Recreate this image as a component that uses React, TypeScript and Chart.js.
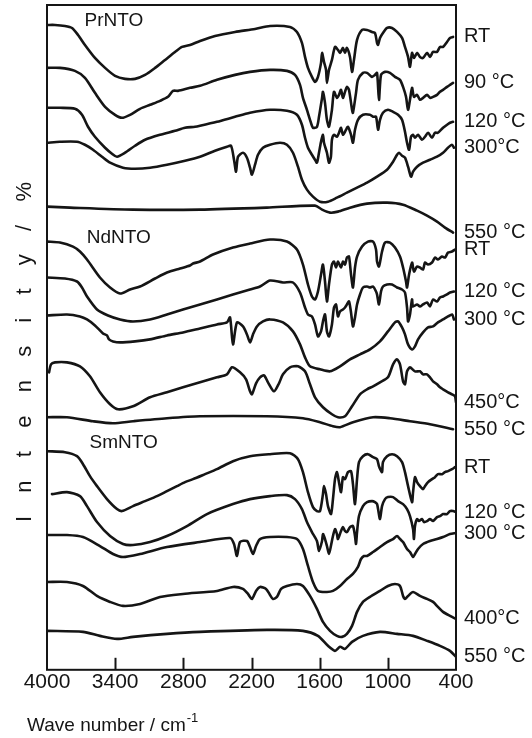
import React, { useEffect, useRef } from 'react';
import { Chart, registerables } from 'chart.js';

Chart.register(...registerables);

type Pt = [number, number];

// Wavenumber ticks (cm^-1)
const X_TICKS = [4000, 3400, 2800, 2200, 1600, 1000, 400];

// ---- PrNTO (wavenumber, intensity a.u. with vertical offset) ----
const PR_RT: Pt[] = [[4000,646],[3930,646],[3842,645],[3780,643],[3727,636],[3666,626],[3578,613],[3489,603],[3401,595],[3313,592],[3225,592],[3137,596],[3049,603],[2961,611],[2873,619],[2812,624],[2741,626],[2653,630],[2521,635],[2345,639],[2169,642],[2037,645],[1861,644],[1800,639],[1756,628],[1729,614],[1703,603],[1668,594],[1641,589],[1615,594],[1588,608],[1579,618],[1562,609],[1544,601],[1536,588],[1518,601],[1492,611],[1465,624],[1439,621],[1421,618],[1395,623],[1377,618],[1360,623],[1333,614],[1315,599],[1298,611],[1271,631],[1227,641],[1183,641],[1139,639],[1113,638],[1095,628],[1086,626],[1069,633],[1043,638],[1007,643],[963,643],[919,639],[875,633],[849,624],[822,614],[805,604],[787,618],[770,613],[743,618],[717,614],[690,613],[655,618],[629,614],[602,619],[567,619],[541,624],[514,624],[479,629],[453,633],[426,634]];
const PR_90: Pt[] = [[4000,603],[3886,603],[3754,600],[3666,593],[3578,578],[3489,564],[3401,556],[3340,553],[3269,556],[3181,562],[3093,566],[3005,570],[2935,574],[2891,580],[2847,580],[2741,583],[2653,585],[2504,591],[2345,596],[2213,599],[2037,601],[1888,600],[1817,596],[1773,586],[1747,573],[1712,561],[1685,551],[1659,543],[1624,544],[1606,554],[1579,573],[1571,579],[1553,568],[1536,551],[1518,544],[1492,561],[1474,579],[1448,573],[1430,576],[1412,581],[1395,573],[1377,579],[1360,584],[1342,581],[1315,561],[1307,558],[1280,578],[1263,591],[1219,598],[1183,598],[1139,594],[1113,596],[1095,598],[1078,571],[1060,596],[1025,599],[981,598],[937,594],[893,591],[866,584],[840,574],[822,561],[805,571],[787,583],[770,574],[743,576],[717,571],[690,573],[655,576],[629,573],[602,574],[567,576],[541,579],[514,581],[479,584],[453,586],[426,588]];
const PR_120: Pt[] = [[4000,563],[3886,563],[3754,562],[3692,556],[3639,544],[3578,534],[3489,523],[3428,517],[3384,514],[3313,518],[3225,525],[3137,531],[3005,536],[2873,540],[2785,543],[2697,544],[2653,545],[2504,549],[2345,554],[2213,558],[2037,561],[1888,560],[1800,556],[1756,546],[1729,533],[1703,523],[1668,516],[1641,511],[1624,508],[1606,518],[1588,529],[1571,536],[1562,528],[1536,518],[1518,508],[1501,514],[1492,531],[1474,536],[1448,534],[1430,538],[1412,543],[1395,536],[1368,541],[1351,544],[1324,536],[1307,528],[1289,541],[1263,551],[1219,556],[1157,556],[1130,554],[1104,554],[1086,541],[1069,551],[1043,558],[999,561],[954,559],[910,556],[875,551],[849,539],[831,528],[813,521],[796,534],[778,536],[761,533],[734,536],[699,531],[673,534],[646,538],[611,533],[585,538],[559,538],[514,543],[479,546],[453,548],[426,549]];
const PR_300: Pt[] = [[4000,528],[3886,529],[3736,529],[3666,526],[3595,521],[3516,514],[3445,508],[3331,503],[3225,502],[3093,503],[2944,506],[2785,510],[2653,514],[2521,520],[2416,524],[2380,525],[2354,511],[2336,499],[2319,514],[2275,518],[2240,513],[2213,503],[2196,496],[2169,506],[2143,516],[2099,523],[2037,526],[1949,528],[1888,526],[1835,518],[1791,504],[1756,491],[1712,481],[1659,474],[1597,469],[1527,469],[1448,473],[1360,478],[1271,483],[1183,488],[1095,494],[1007,501],[954,509],[919,516],[902,518],[875,515],[849,513],[822,504],[796,494],[778,499],[743,504],[690,508],[629,511],[567,514],[514,518],[471,523],[435,526],[418,523]];
const PR_550: Pt[] = [[4000,464],[3798,463],[3243,461],[2653,461],[2064,463],[1641,465],[1579,461],[1509,458],[1439,459],[1333,463],[1183,467],[1007,468],[866,466],[743,460],[655,455],[567,449],[497,443],[426,438]];

// ---- NdNTO ----
const ND_RT: Pt[] = [[4000,429],[3886,428],[3771,424],[3710,419],[3648,411],[3534,393],[3445,383],[3357,377],[3269,381],[3181,384],[3049,392],[2944,398],[2829,402],[2741,405],[2715,407],[2653,409],[2539,416],[2363,423],[2213,427],[2037,431],[1888,429],[1800,421],[1747,406],[1703,386],[1668,374],[1641,371],[1615,379],[1588,396],[1571,406],[1553,389],[1536,369],[1518,386],[1492,406],[1474,409],[1456,403],[1439,409],[1412,403],[1395,409],[1377,406],[1360,413],[1342,414],[1324,396],[1307,383],[1289,403],[1271,414],[1227,424],[1175,429],[1130,429],[1104,421],[1095,409],[1078,404],[1051,419],[1025,428],[981,428],[937,423],[893,414],[866,403],[840,389],[831,383],[813,396],[787,408],[770,399],[743,404],[717,403],[690,401],[673,408],[646,406],[611,408],[585,413],[559,411],[523,414],[497,413],[470,418],[435,419],[409,421]];
const ND_120: Pt[] = [[4000,393],[3842,392],[3736,389],[3692,383],[3648,374],[3560,361],[3463,355],[3357,351],[3243,349],[3093,351],[2944,356],[2803,361],[2653,366],[2504,371],[2363,376],[2213,381],[2125,384],[2037,390],[1923,388],[1835,388],[1773,378],[1729,363],[1703,356],[1668,354],[1641,346],[1615,334],[1588,339],[1571,349],[1553,356],[1536,339],[1518,334],[1492,346],[1474,363],[1456,366],[1439,354],[1421,359],[1395,361],[1377,363],[1360,366],[1342,369],[1324,358],[1307,344],[1289,353],[1271,366],[1245,376],[1219,383],[1183,384],[1157,383],[1130,384],[1104,379],[1095,376],[1078,366],[1060,379],[1043,384],[1007,386],[963,386],[919,383],[875,381],[849,378],[831,363],[822,349],[805,356],[787,371],[778,364],[743,366],[717,364],[690,366],[655,368],[629,364],[602,371],[567,369],[541,373],[514,374],[479,376],[453,378],[418,379]];
const ND_300: Pt[] = [[4000,355],[3824,356],[3710,354],[3648,351],[3578,345],[3507,337],[3472,335],[3454,331],[3419,329],[3357,328],[3225,329],[3093,331],[2944,335],[2803,338],[2653,342],[2504,346],[2416,348],[2389,353],[2363,326],[2328,348],[2275,344],[2240,336],[2213,328],[2187,336],[2152,344],[2099,349],[2037,351],[1923,348],[1835,339],[1773,326],[1729,313],[1685,304],[1597,301],[1509,299],[1421,304],[1333,311],[1245,316],[1157,321],[1069,329],[999,339],[937,348],[910,349],[875,343],[849,336],[822,326],[787,321],[761,324],[734,331],[690,338],[646,343],[602,344],[559,348],[514,351],[470,354],[435,356],[418,351]];
const ND_450: Pt[] = [[3982,298],[3965,306],[3930,308],[3824,308],[3710,304],[3622,294],[3534,278],[3445,266],[3375,261],[3243,264],[3093,273],[2944,278],[2803,283],[2653,288],[2504,293],[2416,296],[2372,303],[2301,298],[2248,291],[2213,279],[2196,276],[2160,287],[2125,293],[2090,295],[2055,288],[2002,279],[1958,287],[1923,296],[1861,303],[1791,304],[1729,299],[1685,286],[1641,273],[1571,263],[1492,256],[1439,253],[1377,254],[1315,264],[1245,276],[1183,281],[1130,284],[1069,288],[999,293],[954,306],[919,311],[893,306],[866,289],[849,286],[831,299],[805,303],[761,299],[717,299],[690,296],[655,296],[629,293],[602,289],[567,286],[541,283],[514,281],[470,278],[435,276],[409,274],[400,268]];
const ND_550: Pt[] = [[4000,253],[3824,253],[3595,249],[3419,247],[3243,249],[2944,252],[2653,254],[2064,254],[1747,252],[1597,248],[1483,244],[1421,243],[1307,248],[1130,253],[981,252],[805,249],[629,246],[426,241]];

// ---- SmNTO ----
const SM_RT: Pt[] = [[4000,219],[3842,218],[3736,214],[3683,206],[3622,194],[3560,184],[3472,171],[3384,161],[3340,159],[3243,164],[3137,169],[3032,174],[2944,179],[2856,184],[2785,188],[2715,191],[2609,196],[2504,201],[2363,209],[2213,214],[2037,216],[1861,217],[1791,211],[1747,198],[1703,178],[1659,163],[1624,159],[1597,159],[1571,176],[1562,184],[1544,176],[1527,164],[1500,156],[1483,171],[1465,191],[1448,198],[1430,188],[1412,178],[1395,193],[1377,191],[1351,198],[1324,199],[1307,186],[1289,166],[1271,191],[1254,208],[1219,214],[1175,216],[1130,213],[1095,211],[1078,204],[1051,198],[1043,208],[1007,214],[963,216],[919,214],[875,208],[849,198],[822,184],[787,168],[778,178],[761,193],[743,188],[717,184],[690,181],[673,184],[646,188],[611,191],[585,193],[559,196],[523,196],[497,198],[470,199],[435,201],[409,203]];
const SM_120: Pt[] = [[3956,176],[3824,178],[3710,174],[3648,164],[3560,148],[3445,134],[3331,126],[3243,125],[3093,128],[2944,134],[2768,144],[2592,156],[2363,166],[2213,171],[2037,174],[1888,175],[1817,171],[1756,161],[1712,148],[1668,138],[1624,129],[1606,119],[1579,129],[1571,136],[1553,131],[1536,124],[1518,116],[1501,124],[1483,134],[1465,141],[1448,136],[1439,131],[1412,139],[1395,143],[1377,139],[1360,138],[1333,143],[1307,144],[1289,134],[1280,126],[1271,138],[1254,154],[1219,164],[1183,168],[1139,169],[1113,168],[1095,166],[1086,161],[1069,151],[1051,164],[1025,171],[999,173],[954,173],[910,169],[866,166],[831,161],[805,154],[778,141],[770,131],[761,144],[743,151],[726,149],[699,151],[682,148],[655,149],[629,151],[602,149],[567,153],[541,154],[514,156],[479,156],[453,159],[426,159],[400,158]];
const SM_300: Pt[] = [[4000,135],[3824,135],[3683,133],[3534,124],[3419,116],[3331,113],[3181,116],[2944,123],[2653,128],[2389,132],[2354,126],[2328,114],[2301,128],[2240,129],[2213,123],[2187,116],[2160,124],[2125,131],[2037,133],[1888,133],[1800,131],[1747,121],[1703,104],[1659,88],[1615,79],[1536,78],[1483,79],[1421,84],[1360,91],[1307,96],[1263,103],[1236,111],[1210,114],[1183,114],[1130,118],[1069,123],[1007,128],[954,131],[919,134],[893,131],[866,128],[831,121],[805,118],[778,113],[761,116],[734,121],[690,126],[629,129],[567,131],[514,133],[453,136],[400,137]];
const SM_400: Pt[] = [[4000,88],[3824,88],[3683,84],[3560,74],[3445,68],[3331,64],[3181,66],[3005,73],[2803,76],[2504,79],[2363,83],[2275,81],[2231,76],[2196,71],[2160,79],[2125,83],[2072,81],[2037,75],[2011,71],[1976,73],[1940,81],[1888,84],[1800,86],[1747,84],[1685,74],[1624,61],[1571,48],[1509,39],[1448,34],[1403,33],[1360,36],[1315,44],[1271,58],[1219,68],[1157,73],[1069,79],[999,84],[937,86],[893,84],[866,74],[849,71],[822,74],[778,78],[717,74],[655,71],[602,68],[559,63],[514,58],[453,54],[400,51]];
const SM_550: Pt[] = [[4000,39],[3683,38],[3534,34],[3384,31],[3243,33],[2944,36],[2653,38],[2064,40],[1747,39],[1615,34],[1527,24],[1465,19],[1421,23],[1377,21],[1315,28],[1219,34],[1069,38],[919,36],[778,34],[655,29],[541,24],[453,19],[400,13]];

const SERIES: { label: string; data: Pt[] }[] = [
  { label: 'RT', data: PR_RT },
  { label: '90 °C', data: PR_90 },
  { label: '120 °C', data: PR_120 },
  { label: '300°C', data: PR_300 },
  { label: '550 °C', data: PR_550 },
  { label: 'RT', data: ND_RT },
  { label: '120 °C', data: ND_120 },
  { label: '300 °C', data: ND_300 },
  { label: '450°C', data: ND_450 },
  { label: '550 °C', data: ND_550 },
  { label: 'RT', data: SM_RT },
  { label: '120 °C', data: SM_120 },
  { label: '300 °C', data: SM_300 },
  { label: '400°C', data: SM_400 },
  { label: '550 °C', data: SM_550 },
];

const GROUP_NAMES = ['PrNTO', 'NdNTO', 'SmNTO'];
const GROUP_ANCHORS: Pt[] = [[3670, 650], [3650, 433], [3625, 227]];

const INK = '#151515';
const FONT = '"Liberation Sans", Arial, sans-serif';

const decorations = {
  id: 'decorations',
  afterDraw(chart: any) {
    const { ctx, chartArea: a, scales } = chart;
    const x = scales.x;
    const y = scales.y;
    ctx.save();
    ctx.strokeStyle = INK;
    ctx.fillStyle = INK;
    ctx.lineWidth = 2;
    ctx.strokeRect(a.left, a.top, a.right - a.left, a.bottom - a.top);
    // inward tick marks
    X_TICKS.forEach((v) => {
      if (v === 4000 || v === 400) return;
      const px = Math.round(x.getPixelForValue(v)) + 0.5;
      ctx.beginPath();
      ctx.moveTo(px, a.bottom);
      ctx.lineTo(px, a.bottom - 12);
      ctx.stroke();
    });
    // temperature labels at right
    ctx.font = `20px ${FONT}`;
    ctx.textAlign = 'left';
    ctx.textBaseline = 'middle';
    chart.data.datasets.forEach((ds: any) => {
      const last = ds.data[ds.data.length - 1];
      ctx.fillText(ds.label, a.right + 8, y.getPixelForValue(last.y));
    });
    // sample group labels
    ctx.font = `19px ${FONT}`;
    GROUP_NAMES.forEach((name, i) => {
      const [gx, gy] = GROUP_ANCHORS[i];
      ctx.fillText(name, x.getPixelForValue(gx), y.getPixelForValue(gy));
    });
    // y title
    ctx.save();
    const yt = 'Intensity/%';
    ctx.font = `22px ${FONT}`;
    (ctx as any).letterSpacing = '0px';
    const w0 = ctx.measureText(yt).width;
    const span = 340;
    (ctx as any).letterSpacing = `${(span - w0) / (yt.length - 1)}px`;
    ctx.translate(25, 352);
    ctx.rotate(-Math.PI / 2);
    ctx.textAlign = 'left';
    ctx.textBaseline = 'middle';
    ctx.fillText(yt, -span / 2, 0);
    ctx.restore();
    // x title
    ctx.font = `19px ${FONT}`;
    ctx.textBaseline = 'alphabetic';
    const xt = 'Wave number / cm';
    ctx.fillText(xt, 27, 731);
    const xw = ctx.measureText(xt).width;
    ctx.font = `13px ${FONT}`;
    ctx.fillText('-1', 27 + xw + 1, 722);
    ctx.restore();
  },
};

export default function App() {
  const ref = useRef<HTMLCanvasElement | null>(null);
  useEffect(() => {
    if (!ref.current) return;
    const chart = new Chart(ref.current, {
      type: 'line',
      data: {
        datasets: SERIES.map((s) => ({
          label: s.label,
          data: s.data.map(([wn, v]) => ({ x: wn, y: v })),
          borderColor: INK,
          borderWidth: 2.6,
          pointRadius: 0,
          tension: 0.25,
          borderJoinStyle: 'round' as const,
          borderCapStyle: 'round' as const,
          fill: false,
        })),
      },
      options: {
        responsive: false,
        animation: false,
        events: [],
        layout: { padding: { left: 47, right: 76, top: 5, bottom: 43 } },
        plugins: { legend: { display: false }, tooltip: { enabled: false } },
        scales: {
          x: {
            type: 'linear',
            min: 400,
            max: 4000,
            reverse: true,
            grid: { display: false, drawTicks: false },
            border: { display: false },
            afterBuildTicks: (scale: any) => {
              scale.ticks = X_TICKS.map((v) => ({ value: v }));
            },
            ticks: {
              padding: 0,
              color: INK,
              maxRotation: 0,
              autoSkip: false,
              font: { family: FONT, size: 21 },
              callback: (v: any) => String(v),
            },
          },
          y: { type: 'linear', min: 0, max: 666, display: false },
        },
      },
      plugins: [decorations],
    });
    return () => chart.destroy();
  }, []);
  return (
    <div style={{ position: 'absolute', left: 0, top: 0, width: 532, height: 738, background: '#fff' }}>
      <canvas ref={ref} width={532} height={738} style={{ width: 532, height: 738, display: 'block' }} />
    </div>
  );
}
